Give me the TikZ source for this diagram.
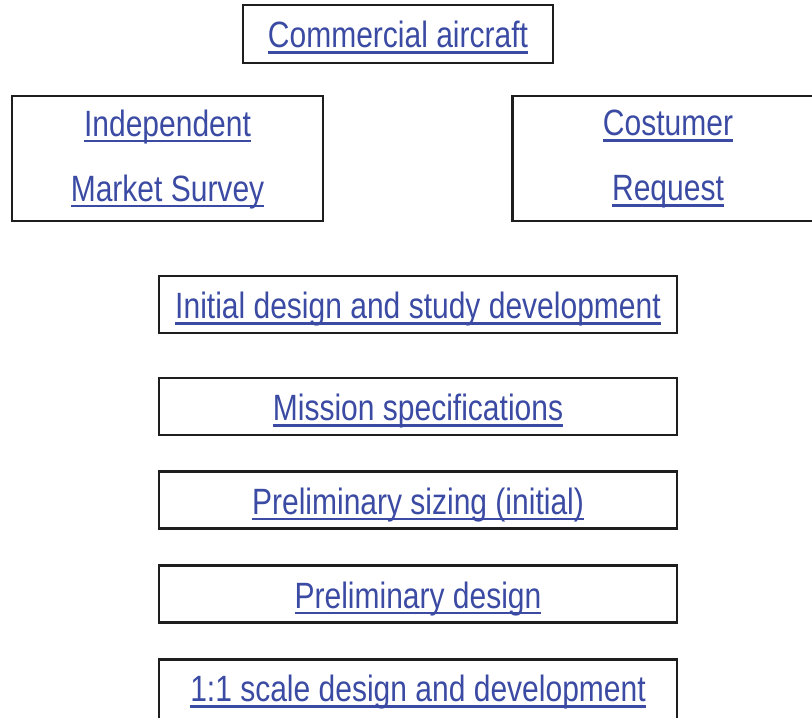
\documentclass[tikz,border=0pt]{standalone}
\usepackage{fontspec}
\setmainfont{Liberation Sans}[FakeStretch=0.82]
\usetikzlibrary{positioning}
\definecolor{LinkBlue}{HTML}{3B4BA3}
\definecolor{Frame}{HTML}{1E1E1E}
\newcommand\ulink[1]{\setbox0=\hbox{#1}\dp0=0pt\vtop{\copy0\kern1.7pt\hrule height1.3pt}}

\begin{document}
\begin{tikzpicture}[x=0.5pt,y=-0.5pt,node distance=18.4pt,
        box/.style={draw=Frame,line width=1.35pt,inner sep=0pt,outer sep=0pt,text=LinkBlue,
          font=\fontsize{18.3}{32.5}\selectfont},
        single/.style={box,text height=14pt,text depth=0pt},
        wide/.style={single,minimum width=259pt,minimum height=28.5pt},
        double/.style={box,align=center,minimum width=155.5pt,minimum height=62.5pt}]
        \useasboundingbox (0,0) rectangle (812,717);
        % top row
        \node[single,minimum width=155pt,minimum height=29pt] (aircraft) at (398,34) {\ulink{Commercial aircraft}};
        \node[double] (survey) at (167.5,158.5) {\ulink{Independent}\\\ulink{Market Survey}};
        \node[double] (request) at (668,158.5) {\ulink{Costumer}\\\ulink{Request}};
        % design steps
        \node[wide] (initial) at (418,304.5) {\ulink{Initial design and study development}};
        \node[wide,below=22.5pt of initial] (mission) {\ulink{Mission specifications}};
        \node[wide,below=of mission] (sizing) {\ulink{Preliminary sizing (initial)}};
        \node[wide,below=of sizing] (prelim) {\ulink{Preliminary design}};
        \node[wide,below=of prelim,minimum height=32pt,text depth=3.5pt] (fullscale) {\ulink{1:1 scale design and development}};
      \end{tikzpicture}
\end{document}
